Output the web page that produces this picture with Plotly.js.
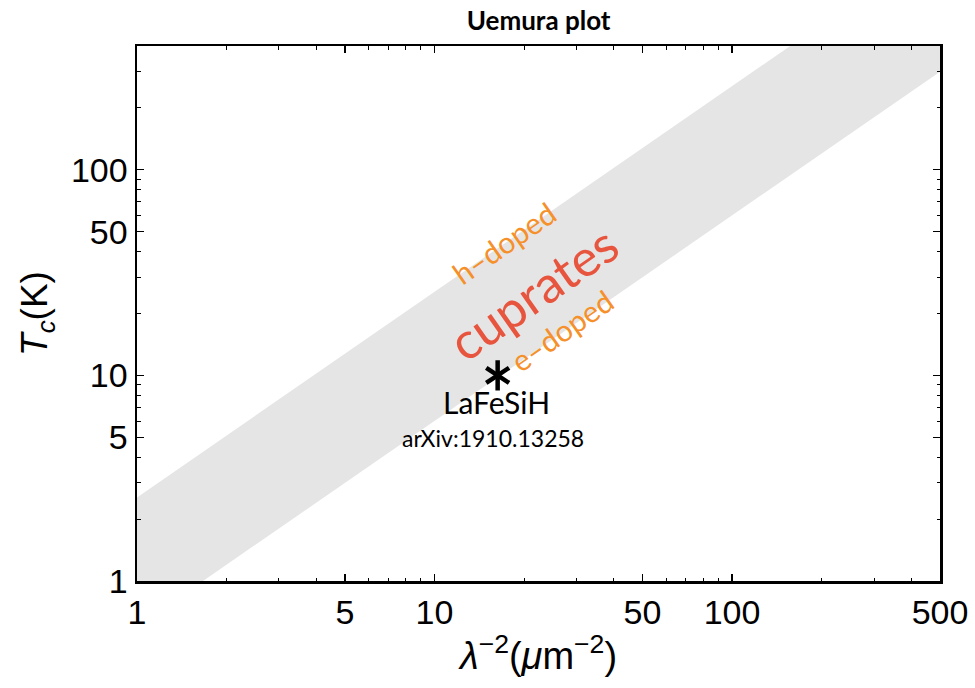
<!DOCTYPE html>
<html>
<head>
<meta charset="utf-8">
<script src="https://cdn.plot.ly/plotly-3.0.1.min.js"></script>
<style>html,body{margin:0;padding:0;background:#fff;}#chart{width:975px;height:688px;}</style>
</head>
<body>
<div id="chart"></div>
<script>
// Band (cuprates Uemura line): Tc bounds along lambda^-2
const bandX = [1, 500];
const bandLower = [0.6, 300];
const bandUpper = [2.55, 1275];
// LaFeSiH point
const pointX = [16.3];
const pointY = [10];
const pointName = ["LaFeSiH"];
// Tick labels
const xTicks = [1, 5, 10, 50, 100, 500];
const yTicks = [1, 5, 10, 50, 100];
const xMinor = [2,3,4,6,7,8,9,20,30,40,60,70,80,90,200,300,400];
const yMinor = [2,3,4,6,7,8,9,20,30,40,60,70,80,90,200,300,400];

const L = Math.log10;
const tickFont = {family: "Liberation Sans, Arial, sans-serif", size: 34, color: "#000"};

const traces = [
  {
    x: [bandX[0], bandX[1], bandX[1], bandX[0]],
    y: [bandLower[0], bandLower[1], bandUpper[1], bandUpper[0]],
    mode: "lines", fill: "toself", fillcolor: "#e5e5e5",
    line: {width: 0, color: "rgba(0,0,0,0)"}, hoverinfo: "skip", showlegend: false
  },
  {
    x: pointX, y: pointY, mode: "markers", showlegend: false,
    marker: {symbol: "y-up-open", size: 19, color: "#000", line: {width: 4.5, color: "#000"}}
  },
  {
    x: pointX, y: pointY, mode: "markers", showlegend: false,
    marker: {symbol: "y-down-open", size: 19, color: "#000", line: {width: 4.5, color: "#000"}}
  }
];

const annFont = "Lato, Open Sans, sans-serif";
const layout = {
  width: 975, height: 688,
  margin: {l: 137, r: 35, t: 46, b: 107},
  paper_bgcolor: "#fff", plot_bgcolor: "#fff",
  title: {text: "<b>Uemura plot</b>", x: 0.5524, xanchor: "center", y: 0.97, yanchor: "middle",
          font: {family: "Lato, sans-serif", size: 26, color: "#000"}},
  xaxis: {
    type: "log", range: [0, L(500)],
    tickmode: "array", tickvals: xTicks, ticktext: xTicks.map(String),
    ticks: "inside", ticklen: 7, tickwidth: 1.2, tickcolor: "#000",
    minor: {tickmode: "array", tickvals: xMinor, ticks: "inside", ticklen: 3.5, tickwidth: 1, tickcolor: "#000"},
    showline: true, linewidth: 2.5, linecolor: "#000", mirror: "allticks",
    showgrid: false, zeroline: false, tickfont: tickFont,
    title: {text: "<i>λ</i><sup>−2</sup>(<i>μ</i>m<sup>−2</sup>)", standoff: 12,
            font: {family: "Liberation Sans, Arial, sans-serif", size: 38, color: "#000"}}
  },
  yaxis: {
    type: "log", range: [0, L(400)],
    tickmode: "array", tickvals: yTicks, ticktext: yTicks.map(String),
    ticks: "inside", ticklen: 7, tickwidth: 1.2, tickcolor: "#000",
    minor: {tickmode: "array", tickvals: yMinor, ticks: "inside", ticklen: 3.5, tickwidth: 1, tickcolor: "#000"},
    showline: true, linewidth: 2.5, linecolor: "#000", mirror: "allticks",
    showgrid: false, zeroline: false, tickfont: tickFont,
    title: {text: "<i>T</i><sub><i>c</i></sub>(K)", standoff: 12,
            font: {family: "Liberation Sans, Arial, sans-serif", size: 37, color: "#000"}}
  },
  annotations: [
    {x: L(21.4), y: L(25.3), xref: "x", yref: "y", text: "cuprates", showarrow: false, textangle: -35,
     font: {family: annFont, size: 51, color: "#e8553f"}},
    {x: L(17.0), y: L(44.2), xref: "x", yref: "y", text: "h–doped", showarrow: false, textangle: -35,
     font: {family: annFont, size: 30, color: "#f5902b"}},
    {x: L(26.8), y: L(16.7), xref: "x", yref: "y", text: "e–doped", showarrow: false, textangle: -35,
     font: {family: annFont, size: 30, color: "#f5902b"}},
    {x: L(pointX[0]) - 0.003, y: L(7.39), xref: "x", yref: "y", text: pointName[0], showarrow: false,
     font: {family: annFont, size: 30, color: "#000"}},
    {x: L(15.7), y: L(4.94), xref: "x", yref: "y", text: "arXiv:1910.13258", showarrow: false,
     font: {family: annFont, size: 23, color: "#000"}}
  ]
};

Plotly.newPlot("chart", traces, layout, {staticPlot: true, displayModeBar: false});
</script>
</body>
</html>
